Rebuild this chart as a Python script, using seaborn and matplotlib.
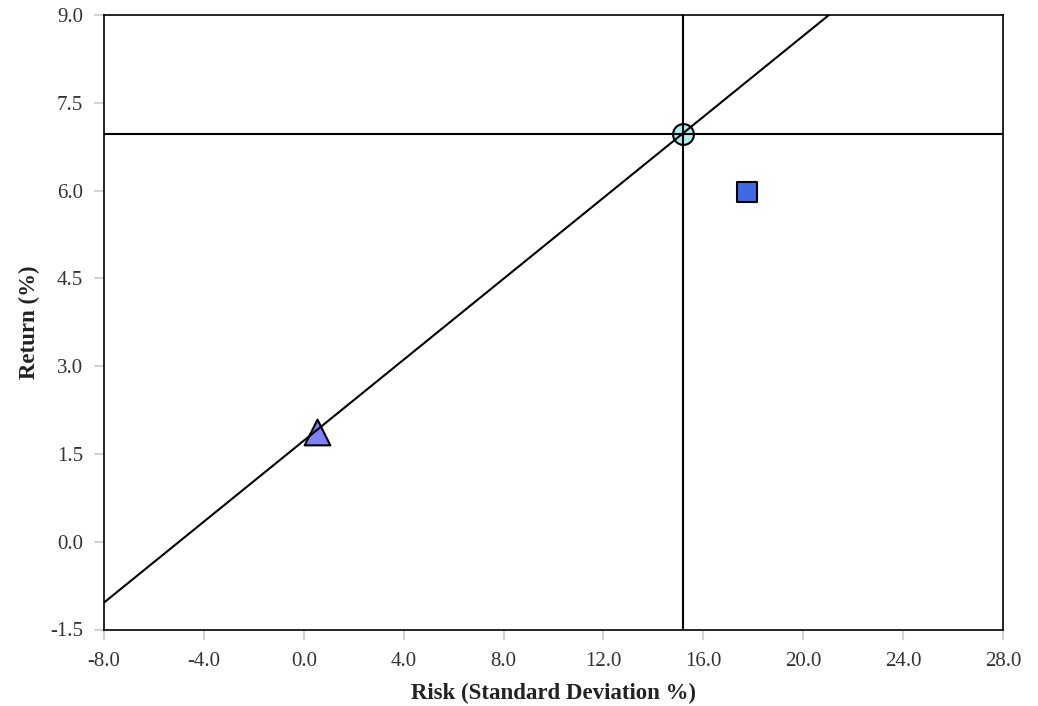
import matplotlib
matplotlib.use("Agg")
import matplotlib.pyplot as plt
import seaborn as sns
import pandas as pd

# portfolio points: (risk, return)
names = ["Risk-free", "Tangency", "Asset"]
risk = [0.53, 15.17, 17.75]
ret = [1.88, 6.97, 5.97]
markers = {"Risk-free": "^", "Tangency": "o", "Asset": "s"}
colors = {"Risk-free": "#8080f8", "Tangency": "#aeeeee", "Asset": "#4169e1"}
sizes = {"Risk-free": 18.5, "Tangency": 15, "Asset": 15}

# capital market line endpoints
cml_x = [-8.0, 21.03]
cml_y = [-1.04, 9.0]

x_ticks = [-8.0, -4.0, 0.0, 4.0, 8.0, 12.0, 16.0, 20.0, 24.0, 28.0]
y_ticks = [-1.5, 0.0, 1.5, 3.0, 4.5, 6.0, 7.5, 9.0]

sns.set_style("white")
plt.rcParams["font.family"] = ["Liberation Serif", "DejaVu Serif"]

fig = plt.figure(figsize=(10.38, 7.06), dpi=100)
ax = fig.add_axes([104 / 1038, (706 - 629.5) / 706, 899 / 1038, 614.5 / 706])

pts = pd.DataFrame({"name": names, "risk": risk, "ret": ret})
cml = pd.DataFrame({"x": cml_x, "y": cml_y})

for n in names:
    d = pts[pts["name"] == n]
    sns.scatterplot(data=d, x="risk", y="ret", marker=markers[n],
                    s=sizes[n] ** 2, color=colors[n], edgecolor="black",
                    linewidth=1.5, ax=ax, zorder=3)
# lines drawn over the markers like the reference
sns.lineplot(data=cml, x="x", y="y", color="black", lw=1.5, ax=ax, zorder=4)
ax.axhline(ret[1], color="black", lw=1.5, zorder=4)
ax.axvline(risk[1], color="black", lw=1.5, zorder=4)

ax.set_xlim(-8, 28)
ax.set_ylim(-1.5, 9)
ax.set_xticks(x_ticks)
ax.set_yticks(y_ticks)
ax.set_xticklabels([f"{v:.1f}" for v in x_ticks])
ax.set_yticklabels([f"{v:.1f}" for v in y_ticks])
ax.tick_params(axis="both", direction="out", length=7, width=1.5,
               color="#d3d3d3", labelsize=15, labelcolor="#333333")
ax.tick_params(axis="x", pad=9)
ax.tick_params(axis="y", pad=8)
ax.tick_params(left=True, bottom=True)

for s in ax.spines.values():
    s.set_color("black")
    s.set_linewidth(1.2)

ax.set_xlabel("Risk (Standard Deviation %)", fontsize=16.5, fontweight="bold",
              color="#222222", labelpad=9)
ax.set_ylabel("Return (%)", fontsize=16.5, fontweight="bold",
              color="#222222", labelpad=7)

fig.savefig("out.png", dpi=100)
